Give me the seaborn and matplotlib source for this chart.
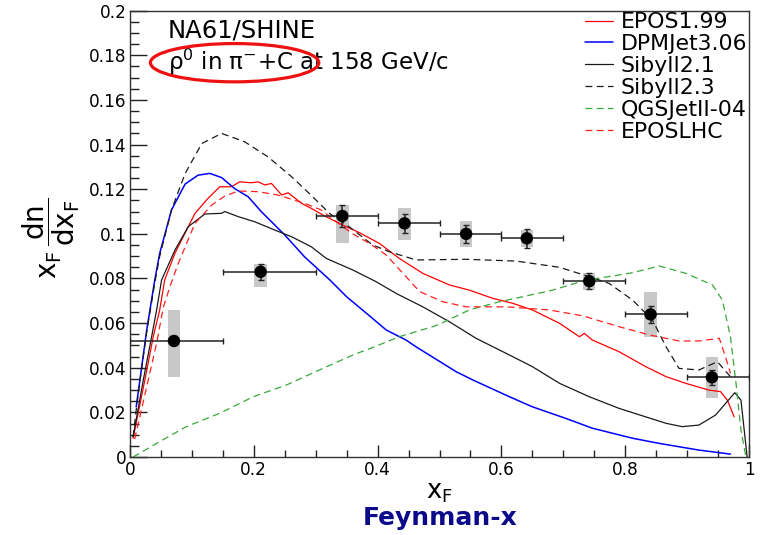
import numpy as np
import pandas as pd
import matplotlib
matplotlib.use("Agg")
import matplotlib.pyplot as plt
from matplotlib.patches import Ellipse
from matplotlib.ticker import MultipleLocator
import seaborn as sns

# ---------------- data ----------------
epos199_x = [0.005, 0.024, 0.0376, 0.048, 0.056, 0.0726, 0.105, 0.126, 0.145, 0.164, 0.177, 0.196, 0.207, 0.218,
             0.2285, 0.245, 0.2555, 0.277, 0.293, 0.3145, 0.344, 0.371, 0.403, 0.435, 0.473, 0.516, 0.548, 0.586,
             0.618, 0.65, 0.694, 0.726, 0.734, 0.747, 0.790, 0.833, 0.866, 0.898, 0.935, 0.954, 0.965, 0.976]
epos199_y = [0.0084, 0.0345, 0.054, 0.0659, 0.0793, 0.0913, 0.1092, 0.1159, 0.1211, 0.1211, 0.1233, 0.1229, 0.1233,
             0.1219, 0.1226, 0.1174, 0.1184, 0.1137, 0.1114, 0.108, 0.1039, 0.1005, 0.0957, 0.089, 0.0823, 0.0771,
             0.0748, 0.0711, 0.0689, 0.0659, 0.0599, 0.0539, 0.0554, 0.0524, 0.0472, 0.0405, 0.036, 0.033, 0.030,
             0.0293, 0.0255, 0.018]

dpmjet_x = [0.010, 0.016, 0.027, 0.040, 0.048, 0.067, 0.089, 0.110, 0.129, 0.148, 0.169, 0.191, 0.212, 0.250,
            0.282, 0.323, 0.350, 0.382, 0.414, 0.446, 0.462, 0.527, 0.554, 0.613, 0.65, 0.704, 0.747, 0.812,
            0.855, 0.919, 0.970]
dpmjet_y = [0.0225, 0.0345, 0.0569, 0.0793, 0.0913, 0.1107, 0.1223, 0.1263, 0.1271, 0.1252, 0.1203, 0.1166, 0.110,
            0.0995, 0.0897, 0.0793, 0.0718, 0.0644, 0.0569, 0.0524, 0.0494, 0.0382, 0.0345, 0.027, 0.0225, 0.0173,
            0.0129, 0.0084, 0.0061, 0.0031, 0.0013]

sibyll21_x = [0.005, 0.0215, 0.035, 0.043, 0.051, 0.0726, 0.094, 0.121, 0.148, 0.153, 0.175, 0.2016, 0.234, 0.261,
              0.293, 0.317, 0.360, 0.398, 0.430, 0.473, 0.516, 0.559, 0.608, 0.65, 0.694, 0.742, 0.790, 0.833,
              0.866, 0.892, 0.919, 0.946, 0.977, 0.987, 0.997]
sibyll21_y = [0.009, 0.0345, 0.054, 0.0659, 0.0793, 0.0927, 0.1032, 0.1089, 0.1092, 0.110, 0.1077, 0.1054, 0.1017,
              0.0987, 0.0942, 0.089, 0.0838, 0.0785, 0.0733, 0.0673, 0.0606, 0.0532, 0.0464, 0.0405, 0.033, 0.027,
              0.0218, 0.018, 0.0151, 0.0136, 0.0143, 0.0188, 0.0288, 0.0255, 0.0]

sibyll23_x = [0.005, 0.010, 0.016, 0.027, 0.040, 0.048, 0.067, 0.089, 0.116, 0.148, 0.185, 0.223, 0.261, 0.290,
              0.323, 0.355, 0.392, 0.419, 0.462, 0.543, 0.624, 0.694, 0.742, 0.774, 0.812, 0.844, 0.866, 0.887,
              0.919, 0.949, 0.970]
sibyll23_y = [0.009, 0.021, 0.034, 0.056, 0.078, 0.090, 0.1107, 0.127, 0.1405, 0.145, 0.1413, 0.1345, 0.1256, 0.118,
              0.109, 0.103, 0.095, 0.092, 0.0883, 0.0886, 0.0878, 0.085, 0.0808, 0.0778, 0.0703, 0.0614, 0.0494,
              0.0397, 0.039, 0.0427, 0.036]

qgsjet_x = [0.005, 0.048, 0.091, 0.145, 0.199, 0.253, 0.306, 0.360, 0.395, 0.435, 0.489, 0.500, 0.548, 0.597,
            0.634, 0.683, 0.737, 0.780, 0.812, 0.855, 0.898, 0.941, 0.957, 0.970, 0.979, 0.987, 0.995]
qgsjet_y = [0.0, 0.0069, 0.0136, 0.0196, 0.027, 0.0323, 0.039, 0.0457, 0.0494, 0.0539, 0.0584, 0.0595, 0.0659,
            0.0696, 0.0718, 0.0748, 0.0793, 0.0811, 0.0826, 0.0856, 0.0823, 0.0771, 0.0703, 0.0539, 0.033, 0.0121,
            0.0]

eposlhc_x = [0.0075, 0.027, 0.043, 0.054, 0.0645, 0.078, 0.105, 0.132, 0.153, 0.175, 0.207, 0.239, 0.261, 0.282,
             0.309, 0.34, 0.36, 0.387, 0.414, 0.441, 0.468, 0.505, 0.543, 0.608, 0.677, 0.731, 0.790, 0.839,
             0.887, 0.919, 0.952, 0.962, 0.970]
eposlhc_y = [0.008, 0.0315, 0.051, 0.0673, 0.0763, 0.0868, 0.1047, 0.1129, 0.1169, 0.1192, 0.1189, 0.1174, 0.1155,
             0.1137, 0.1107, 0.104, 0.100, 0.0957, 0.0905, 0.0823, 0.0741, 0.0696, 0.0673, 0.0673, 0.0659, 0.0633,
             0.0584, 0.0547, 0.052, 0.052, 0.0532, 0.0449, 0.0375]

# NA61/SHINE measurement
data_x = [0.071, 0.211, 0.343, 0.4435, 0.543, 0.641, 0.742, 0.841, 0.940]
data_y = [0.052, 0.083, 0.108, 0.1047, 0.100, 0.098, 0.0788, 0.0639, 0.0357]
data_stat = [0.002, 0.0035, 0.005, 0.0042, 0.004, 0.0042, 0.0035, 0.0037, 0.0035]
sys_lo = [0.036, 0.076, 0.0957, 0.0972, 0.0939, 0.0942, 0.0748, 0.0536, 0.0263]
sys_hi = [0.066, 0.0865, 0.1129, 0.1117, 0.1059, 0.1017, 0.0823, 0.074, 0.0447]
bin_lo = [0.0, 0.15, 0.3, 0.4, 0.5, 0.6, 0.7, 0.8, 0.9]
bin_hi = [0.15, 0.3, 0.4, 0.5, 0.6, 0.7, 0.8, 0.9, 1.0]

model_names = ["EPOS1.99", "DPMJet3.06", "Sibyll2.1", "Sibyll2.3", "QGSJetII-04", "EPOSLHC"]
model_x = [epos199_x, dpmjet_x, sibyll21_x, sibyll23_x, qgsjet_x, eposlhc_x]
model_y = [epos199_y, dpmjet_y, sibyll21_y, sibyll23_y, qgsjet_y, eposlhc_y]
model_colors = ["#ff0000", "#0000ff", "#1a1a1a", "#1a1a1a", "#38a838", "#ff2020"]
model_dashed = [False, False, False, True, True, True]
model_lw = [0.9, 1.1, 0.9, 0.9, 0.9, 0.9]

xtick_vals = [0, 0.2, 0.4, 0.6, 0.8, 1.0]
xtick_labels = ["0", "0.2", "0.4", "0.6", "0.8", "1"]
ytick_vals = [0, 0.02, 0.04, 0.06, 0.08, 0.1, 0.12, 0.14, 0.16, 0.18, 0.2]
ytick_labels = ["0", "0.02", "0.04", "0.06", "0.08", "0.1", "0.12", "0.14", "0.16", "0.18", "0.2"]

# ---------------- style ----------------
sns.set_theme(style="ticks")
plt.rcParams["font.family"] = ["DejaVu Sans"]
plt.rcParams["mathtext.fontset"] = "dejavusans"
plt.rcParams["mathtext.default"] = "regular"
plt.rcParams["text.color"] = "black"
plt.rcParams["xtick.color"] = "black"
plt.rcParams["ytick.color"] = "black"
plt.rcParams["axes.labelcolor"] = "black"

fig = plt.figure(figsize=(7.63, 5.35), dpi=100)
L, R, T, B = 130, 749, 10.7, 457
W, H = 763, 535
ax = fig.add_axes([L / W, 1 - B / H, (R - L) / W, (B - T) / H])

# systematic boxes
dx = np.array(data_x)
ax.bar(dx, np.array(sys_hi) - np.array(sys_lo), bottom=sys_lo, width=0.02,
       color="#c8c8c8", edgecolor="none", zorder=1)

# model curves
for name, xs, ys, c, d, lw in zip(model_names, model_x, model_y, model_colors, model_dashed, model_lw):
    df = pd.DataFrame({"x": xs, "y": ys})
    line_kw = dict(dashes=(5.5, 3.5)) if d else {}
    sns.lineplot(data=df, x="x", y="y", ax=ax, color=c, lw=lw, sort=False, estimator=None,
                 label=name, zorder=2, **line_kw)

# data points
xerr = [dx - np.array(bin_lo), np.array(bin_hi) - dx]
ax.errorbar(dx, data_y, xerr=xerr, yerr=data_stat, fmt="none", ecolor="#222222",
            elinewidth=1.1, capsize=2.5, capthick=1.0, zorder=3)
sns.scatterplot(x=data_x, y=data_y, ax=ax, color="black", s=80, edgecolor="none", zorder=4, legend=False)

# axes
ax.set_xlim(0, 1)
ax.set_ylim(0, 0.2)
ax.set_xticks(xtick_vals)
ax.set_xticklabels(xtick_labels, fontsize=12.2)
ax.set_yticks(ytick_vals)
ax.set_yticklabels(ytick_labels, fontsize=12.2)
ax.xaxis.set_minor_locator(MultipleLocator(0.05))
ax.yaxis.set_minor_locator(MultipleLocator(0.005))
ax.tick_params(axis="y", which="major", direction="in", length=12, width=1.0, pad=2.5, color="#222222")
ax.tick_params(axis="y", which="minor", direction="in", length=6.5, width=1.0, color="#222222")
ax.tick_params(axis="x", which="major", direction="in", length=8.5, width=1.0, pad=3, color="#222222")
ax.tick_params(axis="x", which="minor", direction="in", length=4.8, width=1.0, color="#222222")
for s in ax.spines.values():
    s.set_color("#333333")
    s.set_linewidth(1.0)

ax.set_xlabel(r"$x_{F}$", fontsize=18.5)
ax.xaxis.set_label_coords(0.5, -0.05)
ax.xaxis.label.set_va("top")
ax.set_ylabel(r"$x_{F}\,\dfrac{dn}{dx_{F}}$", fontsize=20)
ax.yaxis.set_label_coords(-0.077, 0.49)

fig.text(440 / W, 1 - 518 / H, "Feynman-x", fontsize=18, fontweight="bold", color="#0a0a8a",
         ha="center", va="center")

# annotations
ax.text((168 - L) / (R - L), (B - 30.5) / (B - T), "NA61/SHINE", transform=ax.transAxes,
        fontsize=17.5, ha="left", va="center")
ax.text((168 - L) / (R - L), (B - 62) / (B - T), r"$\rho^{0}$ in $\pi^{-}$+C at 158 GeV/c",
        transform=ax.transAxes, fontsize=16.5, ha="left", va="center")
ax.add_patch(Ellipse((0.169, 0.1767), 0.272, 0.01716, fill=False, edgecolor="#ee1111", lw=2.3, zorder=5))

leg = ax.legend(loc="upper right", bbox_to_anchor=((747 - L) / (R - L), (B - 12.2) / (B - T)),
                frameon=False, fontsize=15.8, handlelength=1.3, handletextpad=0.32, labelspacing=0.09,
                borderaxespad=0, borderpad=0)

fig.savefig("out.png", dpi=100)
